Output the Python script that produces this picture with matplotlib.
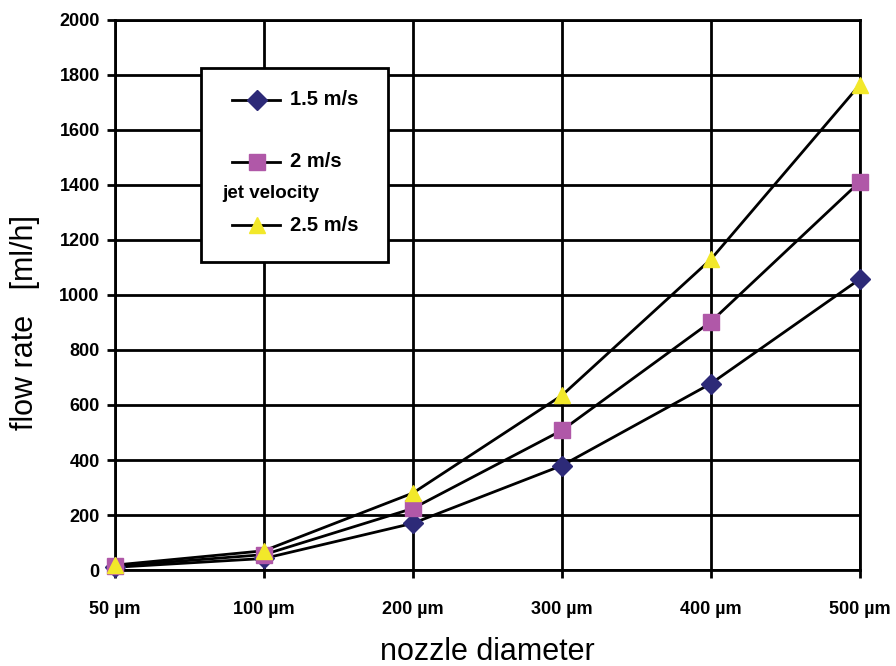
# Flow rate vs nozzle diameter for three jet velocities

import matplotlib.pyplot as plt
from matplotlib.lines import Line2D
from matplotlib.patches import Rectangle

plt.rcParams['font.family'] = ['Liberation Sans', 'DejaVu Sans']

# data
diameters = ['50 µm', '100 µm', '200 µm', '300 µm', '400 µm', '500 µm']
flow_15 = [10, 42, 170, 380, 678, 1058]
flow_20 = [14, 56, 224, 508, 903, 1412]
flow_25 = [18, 70, 280, 635, 1130, 1765]
y_ticks = [0, 200, 400, 600, 800, 1000, 1200, 1400, 1600, 1800, 2000]

series = [
    ('1.5 m/s', flow_15, 'D', '#2d2a78', 10),
    ('2 m/s', flow_20, 's', '#b058a8', 11),
    ('2.5 m/s', flow_25, '^', '#f2e82a', 12),
]

fig = plt.figure(figsize=(8.96, 6.66), dpi=100)
ax = fig.add_axes([0.1283, 0.1441, 0.8315, 0.826])

x = list(range(len(diameters)))
for label, vals, marker, color, ms in series:
    ax.plot(x, vals, color='black', lw=2, zorder=3, clip_on=False)
    ax.plot(x, vals, ls='none', marker=marker, ms=ms, mfc=color, mec=color,
            zorder=4, clip_on=False)

ax.set_xlim(0, 5)
ax.set_ylim(0, 2000)
ax.set_xticks(x)
ax.set_xticklabels(diameters)
ax.set_yticks(y_ticks)
ax.grid(True, color='black', lw=2)
ax.set_axisbelow(True)
for s in ax.spines.values():
    s.set_linewidth(2)
    s.set_color('black')
ax.tick_params(axis='both', width=2, length=6, labelsize=13, color='black')
ax.tick_params(axis='x', pad=16)
ax.tick_params(axis='y', pad=5)
for t in ax.get_xticklabels() + ax.get_yticklabels():
    t.set_fontweight('bold')
ax.set_xlabel('nozzle diameter', fontsize=22, labelpad=14)
ax.set_ylabel('flow rate   [ml/h]', fontsize=22)
ax.yaxis.set_label_coords(-0.10, 0.45)

# legend box drawn by hand to match the original layout
ax.add_patch(Rectangle((0.115, 0.56), 0.251, 0.353, transform=ax.transAxes,
                       facecolor='white', edgecolor='black', lw=2, zorder=5))
rows = [0.855, 0.742, 0.627]
for (label, vals, marker, color, ms), yy in zip(series, rows):
    ax.add_line(Line2D([0.157, 0.222], [yy, yy], transform=ax.transAxes,
                       color='black', lw=2, zorder=6))
    ax.add_line(Line2D([0.19], [yy], transform=ax.transAxes, ls='none',
                       marker=marker, ms=ms, mfc=color, mec=color, zorder=7))
    ax.text(0.235, yy, label, transform=ax.transAxes, fontsize=14.5,
            fontweight='bold', va='center', ha='left', zorder=7)
ax.text(0.144, 0.685, 'jet velocity', transform=ax.transAxes, fontsize=13.5,
        fontweight='bold', va='center', ha='left', zorder=7)

fig.savefig('out.png', dpi=100)
